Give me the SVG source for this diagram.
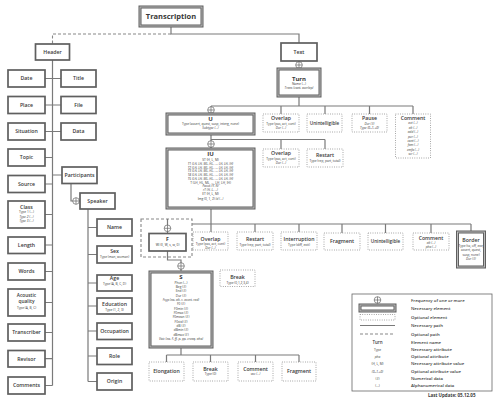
<svg xmlns="http://www.w3.org/2000/svg" xmlns:xlink="http://www.w3.org/1999/xlink" width="500" height="400" viewBox="0 0 500 400">
<style>
text{font-family:"Open Sans","DejaVu Sans",sans-serif;fill:#383838;text-anchor:middle}
.t{font-size:5.2px;font-weight:600}
.tb{font-size:6px;font-weight:700}
.a{font-size:3.2px}
.ai{font-size:3.2px;font-style:italic}
.n{fill:#fff;stroke:#5f5f5f;stroke-width:1.7}
.nn{fill:#fff;stroke:#5f5f5f;stroke-width:3}
.ni{fill:none;stroke:#c4c4c4;stroke-width:0.9}
.o{fill:#fff;stroke:#777;stroke-width:0.8;stroke-dasharray:0.8 1.5}
.c{fill:none;stroke:#7a7a7a;stroke-width:1.2}
.d{fill:none;stroke:#888;stroke-width:1.1;stroke-dasharray:3 2}
.lg{font-size:4.3px;font-weight:600;text-anchor:start}
</style>
<defs>
<g id="plus"><circle r="3.3" fill="#fff" stroke="#666" stroke-width="0.7"/><path d="M-3.3 0H3.3M0 -3.3V3.3" stroke="#666" stroke-width="0.7"/></g>
</defs>
<rect width="500" height="400" fill="#fff"/>

<g id="connectors">
<path class="c" d="M171 26V34H299V43"/>
<path class="d" d="M171 34H52.5V44"/>
<path class="c" d="M52.5 60V385.5"/>
<path class="c" d="M45 78.5H61M45 105H61M45 131.5H61M45 157.5H52.5M45 184H52.5M52.5 175H62M45 214.5H52.5M45 245H52.5M45 271.5H52.5M45 302.5H52.5M45 332.5H52.5M45 358.7H52.5M45 385.5H52.5"/>
<path class="c" d="M71 183V201H80"/>
<path class="c" d="M88 209V381.5M88 227.5H97M88 254.5H97M88 283H97M88 306H97M88 331H97M88 356H97M88 381.5H97"/>
<path class="c" d="M299 61V69M299 96V106M211 106H413M211 106V114M281 106V114M325 106V114M369.5 106V114M413 106V114"/>
<path class="c" d="M211 134V149M211 139.5H325M281 139.5V149M325 139.5V149"/>
<path class="c" d="M211 208V232M192 224H471M255 224V232M299 224V232M342 224V233M385.5 224V233M431 224V233M471 224V232"/>
<path class="d" d="M141 219H192V257H141Z"/>
<path class="c" d="M167.5 219V233.5M167.5 251V260H181V272"/>
<path class="c" d="M181 347V355M166.5 355H299M166.5 355V362M210.5 355V362M255.5 355V362M299 355V362"/>
<use href="#plus" x="299" y="65"/>
<use href="#plus" x="211" y="110"/>
<use href="#plus" x="211" y="144"/>
<use href="#plus" x="167.5" y="228.3"/>
<use href="#plus" x="181" y="266"/>
<use href="#plus" x="76" y="201"/>
</g>

<g id="transcription"><rect class="nn" x="140" y="7" width="62" height="19"/><rect class="ni" x="140" y="7" width="62" height="19"/><text x="171" y="19.3" style="font-size:7.5px;font-weight:700">Transcription</text></g>
<g id="header"><rect class="n" x="35.5" y="44" width="34" height="16"/><text class="t" x="52.5" y="53.8">Header</text></g>
<g id="text"><rect class="n" x="281" y="43" width="36" height="18"/><text class="t" x="299" y="53.8">Text</text></g>

<g id="date"><rect class="n" x="8" y="70" width="37" height="17"/><text class="t" x="26.5" y="80.3">Date</text></g>
<g id="title"><rect class="n" x="61" y="70" width="35" height="17"/><text class="t" x="78.5" y="80.3">Title</text></g>
<g id="place"><rect class="n" x="8" y="96.5" width="37" height="17"/><text class="t" x="26.5" y="106.8">Place</text></g>
<g id="file"><rect class="n" x="61" y="96.5" width="35" height="17"/><text class="t" x="78.5" y="106.8">File</text></g>
<g id="situation"><rect class="n" x="8" y="123" width="37" height="17"/><text class="t" x="26.5" y="133.3">Situation</text></g>
<g id="data"><rect class="n" x="61" y="123" width="35" height="17"/><text class="t" x="78.5" y="133.3">Data</text></g>
<g id="topic"><rect class="n" x="8" y="149" width="37" height="17"/><text class="t" x="26.5" y="159.3">Topic</text></g>
<g id="source"><rect class="n" x="8" y="175.5" width="37" height="17"/><text class="t" x="26.5" y="185.8">Source</text></g>
<g id="participants"><rect class="n" x="62" y="167" width="35" height="16.5"/><text class="t" x="79.5" y="177">Participants</text></g>
<g id="class"><rect class="n" x="8" y="201" width="37" height="27"/><text class="t" x="26.5" y="209.3">Class</text><text class="a" x="26.5" y="213.2">Type 1 (...)</text><text class="ai" x="26.5" y="217.6">Type 2 (...)</text><text class="ai" x="26.5" y="222">Type 3 (...)</text></g>
<g id="length"><rect class="n" x="8" y="237" width="37" height="16.5"/><text class="t" x="26.5" y="247">Length</text></g>
<g id="words"><rect class="n" x="8" y="263" width="37" height="17"/><text class="t" x="26.5" y="273.3">Words</text></g>
<g id="acoustic"><rect class="n" x="8" y="289" width="37" height="27"/><text class="t" x="26.5" y="297.3" style="font-size:4.8px">Acoustic</text><text class="t" x="26.5" y="303.2" style="font-size:4.8px">quality</text><text class="a" x="26.5" y="309.2">Type (A, B, C)</text></g>
<g id="transcriber"><rect class="n" x="8" y="324" width="37" height="17"/><text class="t" x="26.5" y="334.3">Transcriber</text></g>
<g id="revisor"><rect class="n" x="8" y="350.5" width="37" height="16.5"/><text class="t" x="26.5" y="360.6">Revisor</text></g>
<g id="comments"><rect class="n" x="8" y="377" width="37" height="17"/><text class="t" x="26.5" y="387.3">Comments</text></g>

<g id="speaker"><rect class="n" x="80" y="193" width="35" height="16"/><text class="t" x="97.5" y="202.8">Speaker</text></g>
<g id="name"><rect class="n" x="97" y="219" width="35" height="17"/><text class="t" x="114.5" y="229.3">Name</text></g>
<g id="sex"><rect class="n" x="97" y="246" width="35" height="17"/><text class="t" x="114.5" y="253">Sex</text><text class="a" x="114.5" y="258">Type (man, woman)</text></g>
<g id="age"><rect class="n" x="97" y="275" width="35" height="16"/><text class="t" x="114.5" y="280.4">Age</text><text class="a" x="114.5" y="285">Type (A, B, C, D)</text></g>
<g id="education"><rect class="n" x="97" y="298" width="35" height="16"/><text class="t" x="114.5" y="305.6">Education</text><text class="a" x="114.5" y="310.6">Type (1, 2, 3)</text></g>
<g id="occupation"><rect class="n" x="97" y="323" width="35" height="16.5"/><text class="t" x="114.5" y="333">Occupation</text></g>
<g id="role"><rect class="n" x="97" y="348" width="35" height="16.5"/><text class="t" x="114.5" y="358">Role</text></g>
<g id="origin"><rect class="n" x="97" y="373" width="35" height="17"/><text class="t" x="114.5" y="383.3">Origin</text></g>

<g id="turn"><rect class="nn" x="278" y="69" width="42" height="27"/><rect class="ni" x="278" y="69" width="42" height="27"/><text class="tb" x="299" y="80.5">Turn</text><text class="a" x="299" y="84.8">Name (...)</text><text class="ai" x="299" y="89">Trans (cont, overlap)</text></g>
<g id="overlap1"><rect class="o" x="263" y="114" width="36" height="18"/><text class="t" x="281" y="120.3">Overlap</text><text class="a" x="281" y="124.6">Type (pas, act, cont)</text><text class="ai" x="281" y="128.8">Dur (...)</text></g>
<g id="unintelligible1"><rect class="o" x="307" y="114" width="35" height="18"/><text class="t" x="324.5" y="124.5" style="font-size:4.6px">Unintelligible</text></g>
<g id="pause"><rect class="o" x="352" y="114" width="35" height="18"/><text class="t" x="369.5" y="120.3">Pause</text><text class="ai" x="369.5" y="124.5">Dur (#)</text><text class="ai" x="369.5" y="128.7">Type (0,-1,+0)</text></g>
<g id="comment1"><rect class="o" x="395.5" y="114" width="35" height="44"/><text class="t" x="413" y="120.3">Comment</text><text class="ai" x="413" y="124.4">act (...)</text><text class="ai" x="413" y="128.8">alt (...)</text><text class="ai" x="413" y="133.2">add (...)</text><text class="ai" x="413" y="137.6">pur (...)</text><text class="ai" x="413" y="142">cont (...)</text><text class="ai" x="413" y="146.4">fam (...)</text><text class="ai" x="413" y="150.8">emfo (...)</text><text class="ai" x="413" y="155.2">scr (...)</text></g>

<g id="u"><rect class="nn" x="167" y="114" width="87" height="20"/><rect class="ni" x="167" y="114" width="87" height="20"/><text class="tb" x="210.5" y="120.6">U</text><text class="a" x="210.5" y="125.4">Type (assert, quest, susp, interg, none)</text><text class="ai" x="210.5" y="129.4">Subtype (...)</text></g>
<g id="overlap2"><rect class="o" x="263" y="149" width="36" height="18"/><text class="t" x="281" y="155.3">Overlap</text><text class="a" x="281" y="159.6">Type (pas, act, cont)</text><text class="ai" x="281" y="163.8">Dur (...)</text></g>
<g id="restart1"><rect class="o" x="307" y="149" width="36" height="18"/><text class="t" x="325" y="157.3">Restart</text><text class="a" x="325" y="162.4">Type (rep, part, total)</text></g>

<g id="iu"><rect class="nn" x="167" y="149" width="87" height="59"/><rect class="ni" x="167" y="149" width="87" height="59"/>
<text class="tb" x="210.5" y="156">IU</text>
<text class="a" x="210.5" y="161.2">ST (H, L, M)</text>
<text class="ai" x="210.5" y="165">T1 (LH, LH, ML, HL, ..., LH, LH, IH)</text>
<text class="ai" x="210.5" y="168.7">T2 (LH, LH, ML, HL, ..., LH, LH, IH)</text>
<text class="ai" x="210.5" y="172.4">T3 (LH, LH, ML, HL, ..., LH, LH, IH)</text>
<text class="ai" x="210.5" y="176.1">T4 (LH, LH, ML, HL, ..., LH, LH, IH)</text>
<text class="ai" x="210.5" y="179.8">T5 (LH, LH, ML, HL, ..., LH, LH, IH)</text>
<text class="a" x="210.5" y="183.5">T (LH, HL, ML, ..., LH, LH, IH)</text>
<text class="ai" x="210.5" y="187.4">Focus (Y, N)</text>
<text class="ai" x="210.5" y="191.4">rT (H, L, ...)</text>
<text class="a" x="210.5" y="195.4">ET (H, L, M)</text>
<text class="a" x="210.5" y="200.3">Img (0, 1, 2)      <tspan font-style="italic">Id (...)</tspan></text>
</g>

<g id="f"><rect class="n" x="149" y="233.5" width="37" height="17.5"/><text class="tb" x="167.5" y="240.6" style="font-size:5.2px">F</text><text class="a" x="167.5" y="245.6">WI (E, W, s, w, 0)</text></g>
<g id="overlap3"><rect class="o" x="193" y="232" width="35" height="18"/><text class="t" x="210.5" y="240.8">Overlap</text><text class="a" x="210.5" y="245.2">Type (pas, act, cont)</text><text class="ai" x="210.5" y="248.6">Dur (...)</text></g>
<g id="restart2"><rect class="o" x="237" y="232" width="36" height="18"/><text class="t" x="255" y="241.2">Restart</text><text class="a" x="255" y="245.6">Type (rep, part, total)</text></g>
<g id="interruption"><rect class="o" x="281" y="232" width="36" height="18"/><text class="t" x="299" y="241.2">Interruption</text><text class="a" x="299" y="245.6">Type (diff, exit)</text></g>
<g id="fragment1"><rect class="o" x="324" y="233" width="36" height="17"/><text class="t" x="342" y="243.4">Fragment</text></g>
<g id="unintelligible2"><rect class="o" x="368" y="233" width="35" height="17"/><text class="t" x="385.5" y="243.4" style="font-size:4.6px">Unintelligible</text></g>
<g id="comment2"><rect class="o" x="413" y="233" width="36" height="17"/><text class="t" x="431" y="239.5">Comment</text><text class="ai" x="431" y="243.7">alt (...)</text><text class="ai" x="431" y="247.6">pho (...)</text></g>
<g id="border"><rect class="nn" x="457.5" y="232" width="27" height="35"/><rect class="ni" x="457.5" y="232" width="27" height="35"/><text class="t" x="471" y="242">Border</text><text class="a" x="471" y="247">Type (ta, off, exe,</text><text class="a" x="471" y="251.3">assert, quest,</text><text class="a" x="471" y="255.6">susp, none)</text><text class="ai" x="471" y="260">Dur (#)</text></g>

<g id="s"><rect class="nn" x="150" y="272" width="62" height="75"/><rect class="ni" x="150" y="272" width="62" height="75"/>
<text class="tb" x="181" y="279.4">S</text>
<text class="a" x="181" y="283.5">Phon (...)</text>
<text class="a" x="181" y="287.85">Beg (#)</text>
<text class="a" x="181" y="292.2">End (#)</text>
<text class="a" x="181" y="296.55">Dur (#)</text>
<text class="ai" x="181" y="300.9">Fsyp (no, alt, r, accnt, rad)</text>
<text class="a" x="181" y="305.25">F0 (#)</text>
<text class="a" x="181" y="309.6">F0min (#)</text>
<text class="a" x="181" y="313.95">F0max (#)</text>
<text class="a" x="181" y="318.3">F0mean (#)</text>
<text class="a" x="181" y="322.65">F0std (#)</text>
<text class="a" x="181" y="327">dB (#)</text>
<text class="a" x="181" y="331.35">dBmin (#)</text>
<text class="a" x="181" y="335.7">dBmax (#)</text>
<text class="ai" x="181" y="340.05">Voic (no, F, ff, p, pp, creaq, aho)</text>
</g>
<g id="break1"><rect class="o" x="220" y="270" width="35" height="16.5"/><text class="t" x="237.5" y="279">Break</text><text class="a" x="237.5" y="283.6">Type (0,1,2,3,4)</text></g>

<g id="elongation"><rect class="o" x="149" y="362" width="35" height="19"/><text class="t" x="166.5" y="373.4">Elongation</text></g>
<g id="break2"><rect class="o" x="193" y="362" width="35" height="19"/><text class="t" x="210.5" y="370.8">Break</text><text class="a" x="210.5" y="375.4">Type (0)</text></g>
<g id="comment3"><rect class="o" x="238" y="362" width="35" height="19"/><text class="t" x="255.5" y="370.8">Comment</text><text class="ai" x="255.5" y="375.4">voc (...)</text></g>
<g id="fragment2"><rect class="o" x="282" y="362" width="34" height="19"/><text class="t" x="299" y="373.4">Fragment</text></g>

<g id="legend">
<rect x="352" y="294" width="140" height="97" fill="#fff" stroke="#666" stroke-width="0.8"/>
<use href="#plus" x="377.5" y="300"/>
<rect class="nn" x="360" y="305" width="35" height="6"/><rect class="ni" x="360" y="305" width="35" height="6"/>
<rect class="o" x="360" y="314.5" width="35" height="5.5"/>
<path class="c" d="M360 325.5H395"/>
<path class="d" d="M360 334H395"/>
<text class="t" x="377.5" y="343.5" style="font-size:4.5px">Turn</text>
<text class="a" x="377.5" y="350.8">Type</text>
<text class="ai" x="377.5" y="358">pho</text>
<text class="a" x="377.5" y="365.4">(H, L, M)</text>
<text class="ai" x="377.5" y="372.7">(0,-1,+0)</text>
<text class="a" x="377.5" y="380">(#)</text>
<text class="a" x="377.5" y="387.3">(...)</text>
<text class="lg" x="411" y="301.5">Frequency of one or more</text>
<text class="lg" x="411" y="309.5">Necessary element</text>
<text class="lg" x="411" y="318.7">Optional element</text>
<text class="lg" x="411" y="327">Necessary path</text>
<text class="lg" x="411" y="335.6">Optional path</text>
<text class="lg" x="411" y="343.5">Element name</text>
<text class="lg" x="411" y="350.8">Necessary attribute</text>
<text class="lg" x="411" y="358">Optional attribute</text>
<text class="lg" x="411" y="365.4">Necessary attribute value</text>
<text class="lg" x="411" y="372.7">Optional attribute value</text>
<text class="lg" x="411" y="380">Numerical data</text>
<text class="lg" x="411" y="387.3">Alphanumerical data</text>
</g>
<text x="428" y="396.8" style="font-size:4.5px;font-weight:700;text-anchor:start">Last Update: 05.12.05</text>
</svg>
